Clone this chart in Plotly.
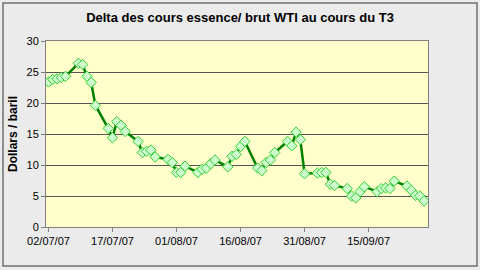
import plotly.graph_objects as go

dates = [
    "2007-07-02", "2007-07-03", "2007-07-04", "2007-07-05", "2007-07-06",
    "2007-07-09", "2007-07-10", "2007-07-11", "2007-07-12", "2007-07-13",
    "2007-07-16", "2007-07-17", "2007-07-18", "2007-07-19", "2007-07-20",
    "2007-07-23", "2007-07-24", "2007-07-25", "2007-07-26", "2007-07-27",
    "2007-07-30", "2007-07-31", "2007-08-01", "2007-08-02", "2007-08-03",
    "2007-08-06", "2007-08-07", "2007-08-08", "2007-08-09", "2007-08-10",
    "2007-08-13", "2007-08-14", "2007-08-15", "2007-08-16", "2007-08-17",
    "2007-08-20", "2007-08-21", "2007-08-22", "2007-08-23", "2007-08-24",
    "2007-08-27", "2007-08-28", "2007-08-29", "2007-08-30", "2007-08-31",
    "2007-09-03", "2007-09-04", "2007-09-05", "2007-09-06", "2007-09-07",
    "2007-09-10", "2007-09-11", "2007-09-12", "2007-09-13", "2007-09-14",
    "2007-09-17", "2007-09-18", "2007-09-19", "2007-09-20", "2007-09-21",
    "2007-09-24", "2007-09-25", "2007-09-26", "2007-09-27", "2007-09-28",
]
delta = [
    23.4, 23.8, 23.9, 24.1, 24.3,
    26.4, 26.2, 24.3, 23.3, 19.6,
    15.9, 14.4, 17.0, 16.4, 15.4,
    13.8, 12.0, 12.2, 12.4, 11.3,
    10.9, 10.4, 8.8, 8.8, 9.8,
    8.8, 9.3, 9.5, 10.2, 10.8,
    9.7, 11.4, 11.7, 13.0, 13.8,
    9.5, 9.1, 10.4, 10.8, 12.0,
    13.8, 13.1, 15.3, 14.1, 8.6,
    8.7, 8.8, 8.8, 6.9, 6.7,
    6.2, 5.0, 4.7, 5.7, 6.5,
    5.7, 6.2, 6.3, 6.2, 7.4,
    6.6, 5.9, 5.1, 5.0, 4.2,
]

title_text = "Delta des cours essence/ brut WTI au cours du T3"
y_title = "Dollars / baril"

FONT = "Liberation Sans, Arial, sans-serif"

fig = go.Figure()
fig.add_trace(go.Scatter(
    x=dates, y=delta, mode="lines+markers",
    line=dict(color="#008000", width=2.5),
    marker=dict(symbol="diamond", size=8, color="#CCFFCC",
                line=dict(color="#33CC33", width=1)),
    showlegend=False,
))

fig.update_layout(
    width=480, height=270,
    margin=dict(l=46, r=52, t=41, b=43),
    paper_bgcolor="#ebebeb",
    plot_bgcolor="#FFFFCC",
    font=dict(family=FONT, size=11, color="black"),
    title=dict(text="<b>" + title_text + "</b>", x=0.5, xref="container",
               y=1 - 17 / 270, yref="container", yanchor="middle",
               xanchor="center", font=dict(size=13, family=FONT, color="black")),
    xaxis=dict(
        type="date",
        range=["2007-07-01 10:00", "2007-09-28 22:00"],
        tick0="2007-07-02", dtick=15 * 86400000,
        tickformat="%d/%m/%y",
        showgrid=False, zeroline=False,
        showline=True, linecolor="#808080", linewidth=1, mirror=True,
        ticks="outside", ticklen=4, tickcolor="#808080",
        tickfont=dict(size=11, family=FONT, color="black"),
    ),
    yaxis=dict(
        range=[0, 30], dtick=5,
        showgrid=True, gridcolor="#555555", gridwidth=1,
        zeroline=False,
        showline=True, linecolor="#808080", linewidth=1, mirror=True,
        ticks="outside", ticklen=4, tickcolor="#808080",
        tickfont=dict(size=11, family=FONT, color="black"),
        title=dict(text="<b>" + y_title + "</b>", standoff=6,
                   font=dict(size=12, family=FONT, color="black")),
    ),
)

# outer chart border
fig.add_shape(type="rect", xref="paper", yref="paper",
              x0=(3 - 46) / 382, x1=(477 - 46) / 382,
              y0=1 - (266 - 41) / 186, y1=1 - (3 - 41) / 186,
              line=dict(color="#707070", width=1.5), layer="below")

fig.write_html("out.html")
